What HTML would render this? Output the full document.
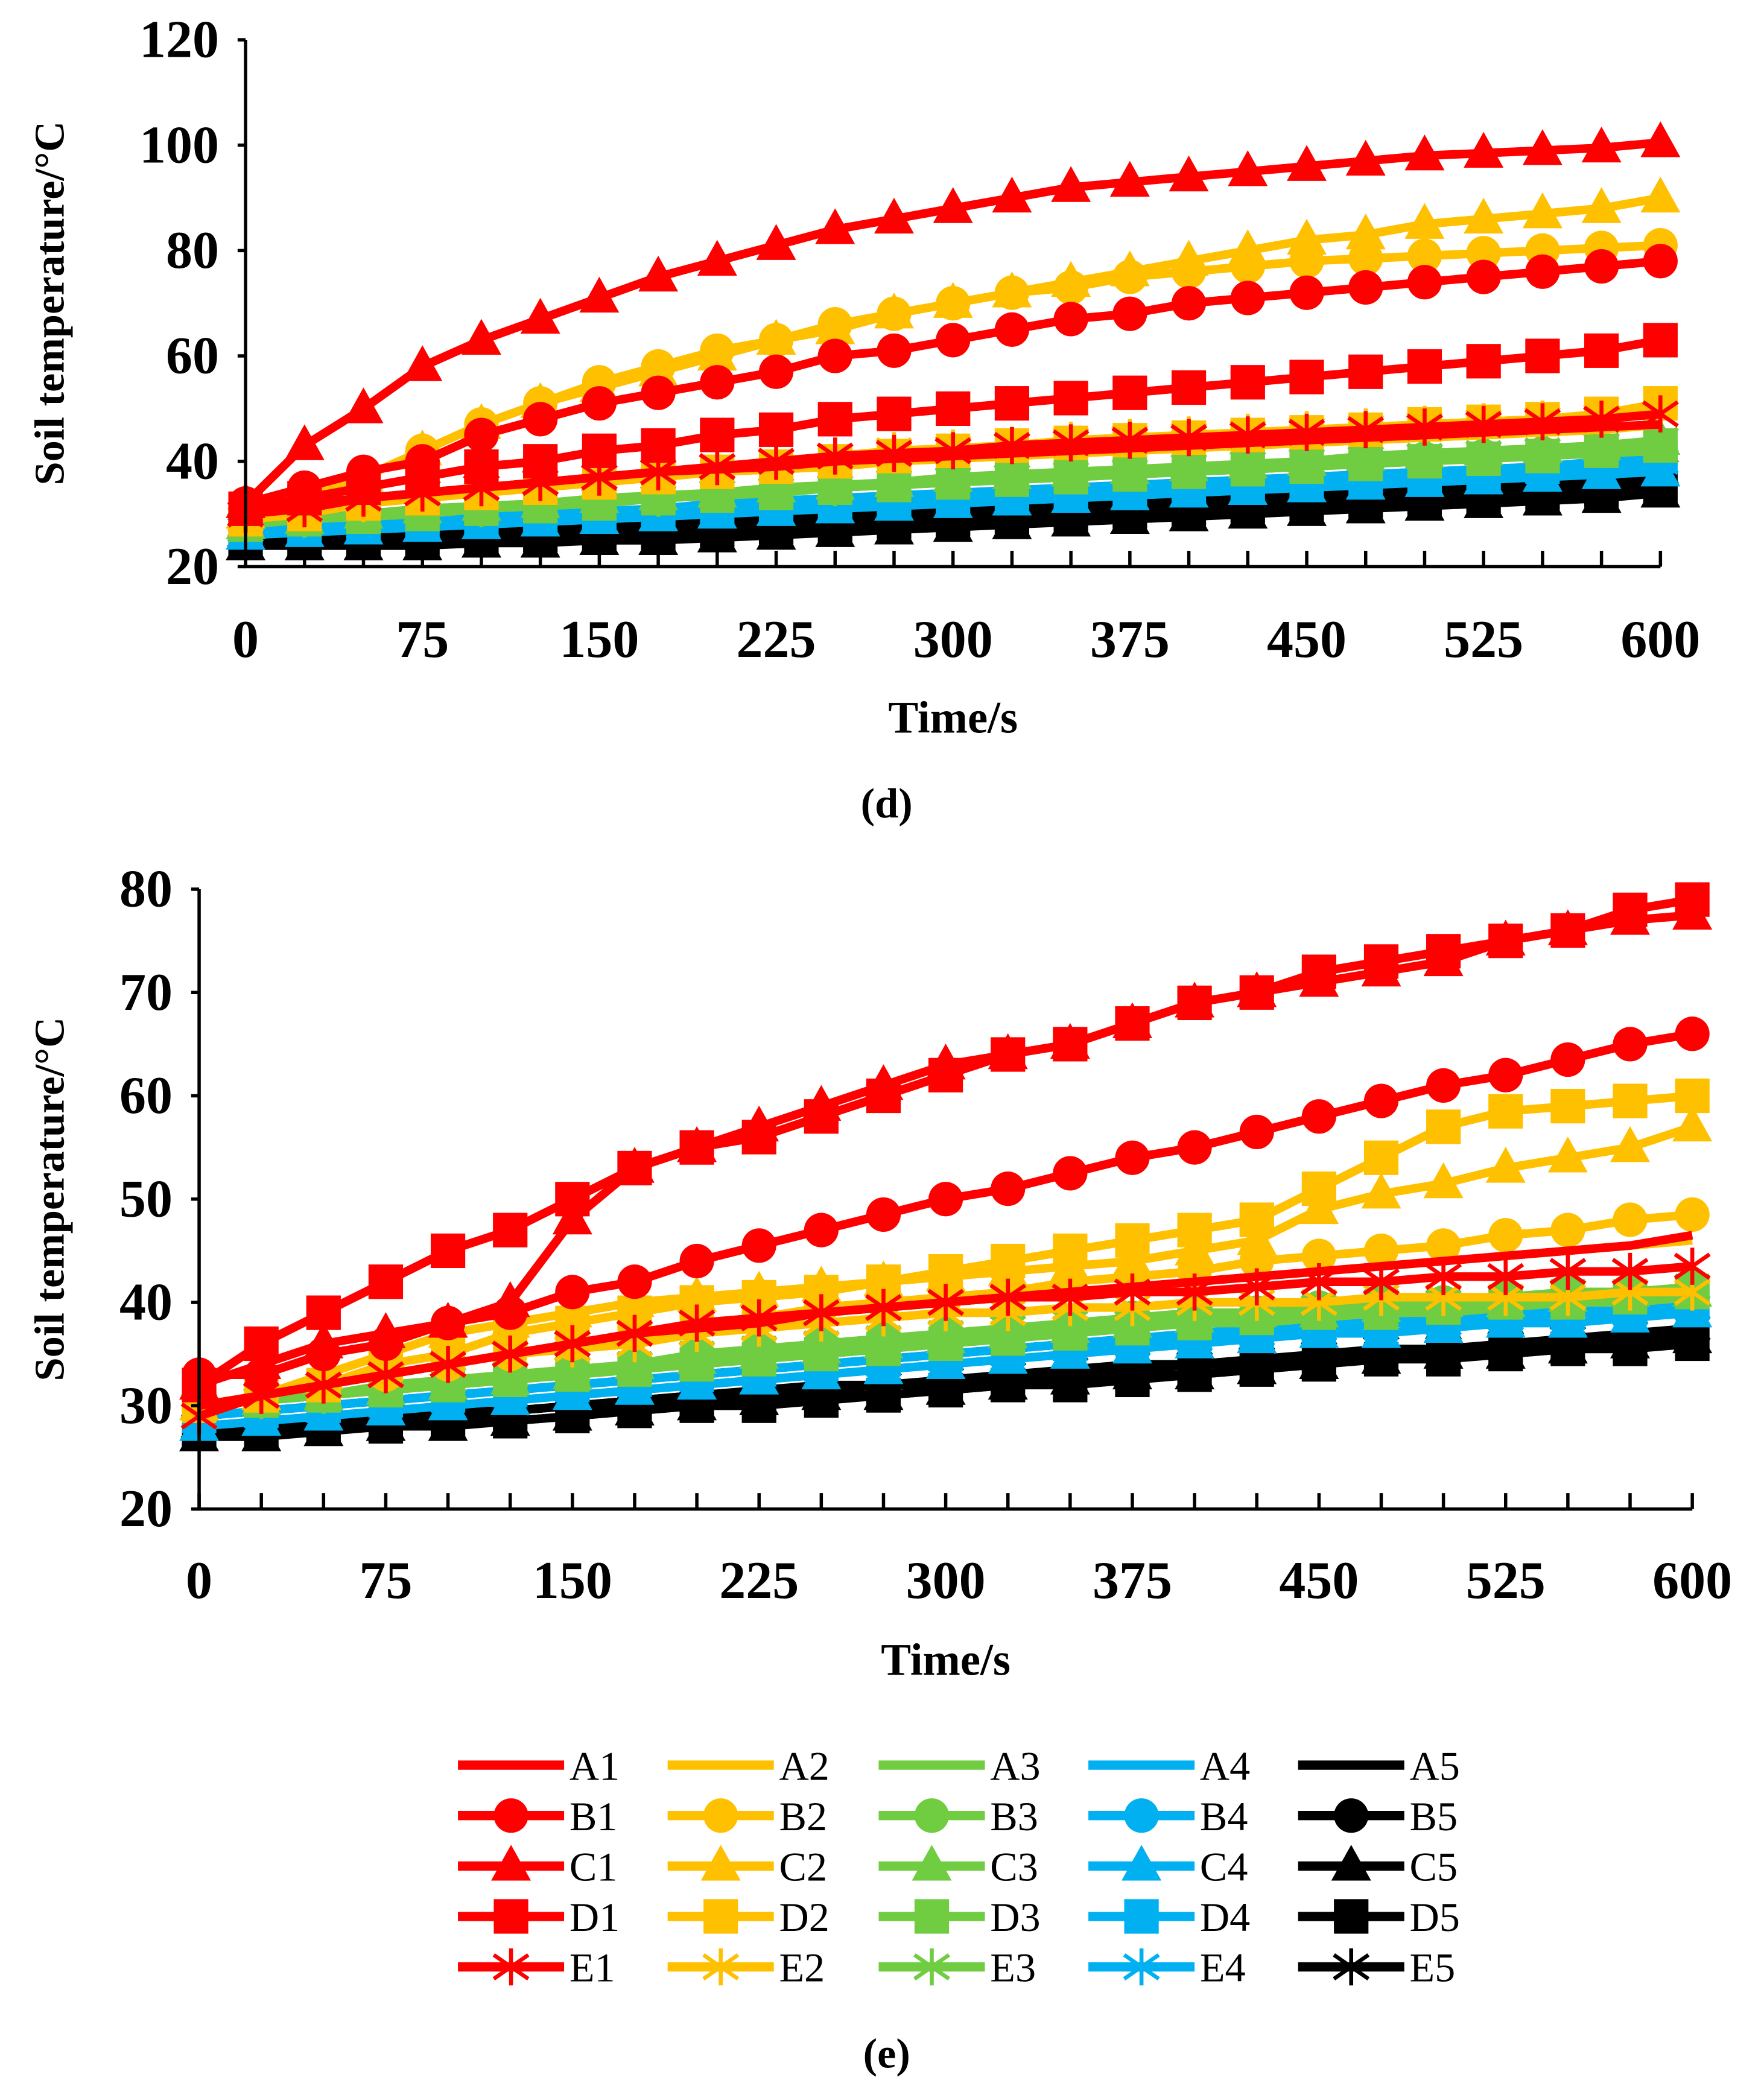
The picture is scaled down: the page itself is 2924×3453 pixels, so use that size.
<!DOCTYPE html>
<html><head><meta charset="utf-8"><style>
html,body{margin:0;padding:0;background:#fff}
svg{display:block}
text{font-family:"Liberation Serif",serif}
</style></head><body>
<svg id="fig" width="2924" height="3453" viewBox="0 0 1329 1569.5" xmlns="http://www.w3.org/2000/svg"></svg>
<script>
const times=[0,25,50,75,100,125,150,175,200,225,250,275,300,325,350,375,400,425,450,475,500,525,550,575,600];
const xTicks=[0,75,150,225,300,375,450,525,600];
const dYTicks=[20,40,60,80,100,120];
const eYTicks=[20,30,40,50,60,70,80];
const seriesNames=["A","B","C","D","E"];
const groupColors=["#ff0000","#ffc000","#70cc40","#00b0f0","#000000"];
// chart (d) values
const dA1=[31,32,33,34,35,36,37,38,38.5,39,40,40.5,41,41.5,42,42.5,43,43.5,44,44.5,45,45.5,46,46.5,47];
const dB1=[32,35,38,40,45,48,51,53,55,57,60,61,63,65,67,68,70,71,72,73,74,75,76,77,78];
const dC1=[32,43,50,58,63,67,71,75,78,81,84,86,88,90,92,93,94,95,96,97,98,98.5,99,99.5,100.5];
const dD1=[31,33,35,37,39,40,42,43,45,46,48,49,50,51,52,53,54,55,56,57,58,59,60,61,63];
const dE1=[30,31,33,34,35,36,37,38,39,40,41,41.5,42,43,43.5,44,44.5,45,45.5,46,46.5,47,47.5,48,49];
const dA2=[30,31,32,33,34,35,36,37,38,38.5,39,40,40.5,41,41.5,42,42.5,43,43.5,44,44.5,45,45.5,46,47];
const dB2=[30,33,37,42,47,51,55,58,61,63,66,68,70,72,73,75,76,77,78,78.5,79,79.5,80,80.5,81];
const dC2=[30,33,37,42,47,51,54,57,60,63,65,68,70,72,74,76,78,80,82,83,85,86,87,88,90];
const dD2=[29,30,32,33,34,35,36,37,38,39,40,41,42,43,43.5,44,44.5,45,45.5,46,47,47.5,48,49,51];
const dE2=[29,31,32,34,35,36,37,38,39,40,41,42,42.5,43,44,44.5,45,45.5,46,46.5,47,47.5,48,48.5,49];
const dA3=[28,29,29.5,30,31,31.5,32,33,33.5,34,35,35.5,36,36.5,37,37.5,38,38.5,39,39.5,40,40.5,41,41.5,42];
const dB3=[28,29,30,30.5,31,32,32.5,33,34,34.5,35,36,36.5,37,37.5,38,38.5,39,39.5,40,40.5,41,41.5,42,43];
const dC3=[28,29,30,31,31.5,32,33,33.5,34,35,35.5,36,37,37.5,38,38.5,39,39.5,40,41,41.5,42,42.5,43,44];
const dD3=[28,29,29.5,30,31,31.5,32,33,33.5,34,35,35.5,36,36.5,37,37.5,38,38.5,39,39.5,40,40.5,41,42,43];
const dE3=[28,29,30,30.5,31,32,32.5,33,34,34.5,35,36,36.5,37,37.5,38,39,39.5,40,40.5,41,41.5,42,43,44];
const dA4=[27,27.5,28,28.5,29,29.5,30,30.5,31,31.5,32,32.5,33,33.5,34,34.5,35,35.5,36,36.5,37,37.5,38,38.5,39];
const dB4=[27,28,28.5,29,29.5,30,30.5,31,31.5,32,32.5,33,33.5,34,35,35.5,36,36.5,37,37.5,38,38.5,39,39.5,40];
const dC4=[26,26.5,27,27.5,28,28.5,29,29.5,30,30.5,31,31.5,32,32.5,33,33.5,34,34.5,35,35.5,36,36.5,37,37.5,38];
const dD4=[27,27.5,28,28.5,29,29.5,30,30.5,31,31.5,32,32.5,33,33.5,34,34.5,35,35.5,36,37,37.5,38,39,40,41];
const dE4=[27,28,28.5,29,29.5,30,30.5,31,32,32.5,33,33.5,34,34.5,35,35.5,36,36.5,37,37.5,38,38.5,39,39.5,40];
const dA5=[26,26,26.5,26.5,27,27,27.5,28,28.5,29,29.5,30,30.5,31,31.5,32,32.5,33,33.5,34,34.5,35,35.5,36,37];
const dB5=[26,26,26,26.5,26.5,27,27,27.5,28,28.5,29,29.5,30,30.5,31,31.5,32,32.5,33,33.5,34,34.5,35,35.5,36];
const dC5=[24,24,24,24,24.5,24.5,25,25,25.5,26,26.5,27,27.5,28,28.5,29,29.5,30,30.5,31,31.5,32,32.5,33,34];
const dD5=[25,25,25,25.5,25.5,26,26,26.5,27,27.5,28,28.5,29,29.5,30,30.5,31,31.5,32,32.5,33,33.5,34,34.5,35];
const dE5=[26,26,26.5,26.5,27,27.5,28,28.5,29,29.5,30,30.5,31,31.5,32,32.5,33,33.5,34,34.5,35,35.5,36,37,38];
// chart (e) values
const eA1=[30,31,32,33,34,35,36,37,37.5,38,39,39.5,40,40.5,41,41.5,42,42.5,43,43.5,44,44.5,45,45.5,46.5];
const eB1=[33,33,35,36,38,39,41,42,44,45.5,47,48.5,50,51,52.5,54,55,56.5,58,59.5,61,62,63.5,65,66];
const eC1=[32,34,36,37,38,40,48,53,55,57,59,61,63,64,65,67,69,70,71,72,73,75,76,77,77.5];
const eD1=[32,36,39,42,45,47,50,53,55,56,58,60,62,64,65,67,69,70,72,73,74,75,76,78,79];
const eE1=[29,31,32,33,34,35,36,37,38,38.5,39,39.5,40,40.5,40.5,41,41,41.5,42,42,42.5,42.5,43,43,43.5];
const eA2=[30,31,32,33,34,35,36,36.5,37.5,38,39,39.5,40,40.5,41,41.5,42,42.5,43,43.5,44,44.5,45,45.5,46];
const eB2=[30,31,32,33,34,35,36,37,38,38.5,39.5,40,40.5,41,42,42.5,43,44,44.5,45,45.5,46.5,47,48,48.5];
const eC2=[30,31,33,35,37,38,39,40,40.5,41,41.5,42,42.5,43,43.5,44,45,46,49,50.5,51.5,53,54,55,57];
const eD2=[30,31,32,34,35,37,38,39,40,40.5,41,42,43,44,45,46,47,48,51,54,57,58.5,59,59.5,60];
const eE2=[29,31,32,33,34,35,35.5,36,37,37.5,38,38.5,39,39,39.5,39.5,40,40,40,40.5,40.5,40.5,40.5,41,41];
const eA3=[30,30.5,31,31.5,32,32.5,33,33.5,34,34.5,35,35.5,36,36.5,37,37.5,38,38,38.5,39,39,39.5,40,40,40.5];
const eB3=[30,30.5,31,31.5,32,33,33.5,34,35,35.5,36,36.5,37,37.5,38,38.5,39,39,39.5,40,40,40.5,41,41,41.5];
const eC3=[30,30.5,31,31.5,32,32.5,33,34,34.5,35,35.5,36,36.5,37,37.5,38,38.5,39,39,39.5,40,40,40.5,41,41];
const eD3=[30,30.5,31,31.5,32,32.5,33,33.5,34,34.5,35,35.5,36,36.5,37,37.5,38,38.5,39,39,39.5,40,40,40.5,41];
const eE3=[30,30.5,31,32,32.5,33,33.5,34,35,35.5,36,36.5,37,37.5,38,38,38.5,39,39.5,40,40,40.5,41,41,41.5];
const eA4=[29,29.5,30,30.5,31,31.5,32,32.5,33,33.5,34,34.5,35,35.5,36,36.5,37,37,37.5,38,38,38.5,39,39,39.5];
const eB4=[29,29.5,30,30.5,31,31.5,32,32.5,33,33.5,34,34.5,35,35.5,36,36.5,37,37.5,38,38,38.5,39,39,39.5,40];
const eC4=[28,28.5,29,29.5,30,30.5,31,31.5,32,32.5,33,33.5,34,34.5,35,35.5,36,36.5,37,37,37.5,38,38,38.5,39];
const eD4=[29,29.5,30,30.5,31,31.5,32,32.5,33,33.5,34,34.5,35,35.5,36,36.5,37,37,37.5,38,38.5,39,39,39.5,40];
const eE4=[29,29.5,30,30.5,31,31.5,32,32.5,33,33.5,34,34.5,35,35.5,36,36,36.5,37,37.5,38,38,38.5,39,39,39.5];
const eA5=[28,28,28.5,29,29,29.5,30,30.5,31,31,31.5,32,32.5,33,33,33.5,34,34,34.5,35,35.5,35.5,36,36.5,37];
const eB5=[28,28,28.5,28.5,29,29.5,30,30,30.5,31,31.5,32,32,32.5,33,33.5,34,34,34.5,35,35,35.5,36,36,36.5];
const eC5=[27,27,27.5,28,28,28.5,29,29.5,30,30.5,31,31,31.5,32,32.5,33,33,33.5,34,34.5,35,35,35.5,36,36.5];
const eD5=[27.5,27.5,28,28,28.5,28.5,29,29.5,30,30,30.5,31,31.5,32,32,32.5,33,33.5,34,34.5,34.5,35,35.5,35.5,36];
const eE5=[28,28,28.5,29,29.5,29.5,30,30.5,31,31.5,32,32,32.5,33,33.5,34,34,34.5,35,35.5,35.5,36,36.5,37,37.5];

const dData={A1:dA1,B1:dB1,C1:dC1,D1:dD1,E1:dE1,A2:dA2,B2:dB2,C2:dC2,D2:dD2,E2:dE2,A3:dA3,B3:dB3,C3:dC3,D3:dD3,E3:dE3,A4:dA4,B4:dB4,C4:dC4,D4:dD4,E4:dE4,A5:dA5,B5:dB5,C5:dC5,D5:dD5,E5:dE5};
const eData={A1:eA1,B1:eB1,C1:eC1,D1:eD1,E1:eE1,A2:eA2,B2:eB2,C2:eC2,D2:eD2,E2:eE2,A3:eA3,B3:eB3,C3:eC3,D3:eD3,E3:eE3,A4:eA4,B4:eB4,C4:eC4,D4:eD4,E4:eE4,A5:eA5,B5:eB5,C5:eC5,D5:eD5,E5:eE5};

const NS="http://www.w3.org/2000/svg";
const svg=document.getElementById('fig');
function mk(tag,attrs,parent){const e=document.createElementNS(NS,tag);for(const k in attrs)e.setAttribute(k,attrs[k]);(parent||svg).appendChild(e);return e;}

function marker(g,type,x,y,color){
  let m;
  if(type==='B'){m=mk('circle',{cx:x,cy:y,r:13,fill:color},g);}
  else if(type==='C'){m=mk('polygon',{points:`${x},${y-16} ${x-15},${y+11} ${x+15},${y+11}`,fill:color},g);}
  else if(type==='D'){m=mk('rect',{x:x-13,y:y-13,width:26,height:26,fill:color},g);}
  else if(type==='E'){m=mk('path',{d:`M${x},${y-14}V${y+14}M${x-13},${y-9}L${x+13},${y+9}M${x-13},${y+9}L${x+13},${y-9}`,stroke:color,'stroke-width':3,fill:'none'},g);}
  if(m){}
}

function drawChart(cfg,data,yTicks,id){
  const g=mk('g',{});
  
  
  const xs=v=>cfg.x0+(v-0)/(600-0)*(cfg.x1-cfg.x0);
  const ys=v=>cfg.y0-(v-yTicks[0])/(yTicks[yTicks.length-1]-yTicks[0])*(cfg.y0-cfg.y1);
  for(let c=4;c>=0;c--){
    for(let s=0;s<5;s++){
      const key=seriesNames[s]+(c+1);
      const vals=data[key];
      const sg=mk('g',{},g);
      
      
      const pts=vals.map((v,i)=>xs(times[i]).toFixed(1)+','+ys(v).toFixed(1)).join(' ');
      const pl=mk('polyline',{points:pts,fill:'none',stroke:groupColors[c],'stroke-width':6.5,'stroke-linejoin':'round'},sg);
      
      
      vals.forEach((v,i)=>marker(sg,seriesNames[s],xs(times[i]),ys(v),groupColors[c]));
    }
  }
  const ax=mk('path',{d:`M${cfg.x0},${cfg.y1}V${cfg.y0}H${cfg.x1}`,stroke:'#000','stroke-width':2.5,fill:'none'},g);
  
  
  let tk='';
  times.forEach(t=>{tk+=`M${xs(t)},${cfg.y0}v-12`;});
  yTicks.forEach(v=>{tk+=`M${cfg.x0},${ys(v)}h-6`;});
  const tp=mk('path',{d:tk,stroke:'#000','stroke-width':2.5,fill:'none'},g);
  
  
  yTicks.forEach(v=>{
    const t=mk('text',{x:cfg.x0-20,y:ys(v)+13,'text-anchor':'end','font-size':40,'font-weight':'bold'},g);
    t.textContent=v;
    
    
  });
  xTicks.forEach(v=>{
    const t=mk('text',{x:xs(v),y:cfg.xLabelY,'text-anchor':'middle','font-size':40,'font-weight':'bold'},g);
    t.textContent=v;
    
    
  });
  const xt=mk('text',{x:(cfg.x0+cfg.x1)/2,y:cfg.xTitleY,'text-anchor':'middle','font-size':34,'font-weight':'bold'},g);
  xt.textContent='Time/s';
  
  
  const cy=(cfg.y0+cfg.y1)/2+cfg.yTitleShift;
  const yt=mk('text',{x:cfg.yTitleX,y:cy,'text-anchor':'middle','font-size':32,'font-weight':'bold',transform:`rotate(-90 ${cfg.yTitleX} ${cy})`},g);
  yt.textContent='Soil temperature/°C';
  
  
  const cap=mk('text',{x:cfg.capX,y:cfg.capY,'text-anchor':'middle','font-size':32,'font-weight':'bold'},g);
  cap.textContent=cfg.cap;
  
  
}

drawChart({x0:185,x1:1251,y0:427,y1:30,xLabelY:495,xTitleY:552,yTitleX:48,yTitleShift:0,capX:668,capY:616,cap:'(d)'},dData,dYTicks,'chart-d');
drawChart({x0:150,x1:1275,y0:1137,y1:670,xLabelY:1204,xTitleY:1262,yTitleX:48,yTitleShift:0,capX:668,capY:1558,cap:'(e)'},eData,eYTicks,'chart-e');

const lg=mk('g',{});


const colX=[345,503,662,820,978];
for(let c=0;c<5;c++){
  for(let s=0;s<5;s++){
    const y=1330+s*38;
    const eg=mk('g',{},lg);
    
    
    mk('line',{x1:colX[c],y1:y,x2:colX[c]+80,y2:y,stroke:groupColors[c],'stroke-width':7},eg);
    marker(eg,seriesNames[s],colX[c]+40,y,groupColors[c]);
    const t=mk('text',{x:colX[c]+84,y:y+11,'font-size':31},eg);
    t.textContent=seriesNames[s]+(c+1);
  }
}
</script>
</body></html>
